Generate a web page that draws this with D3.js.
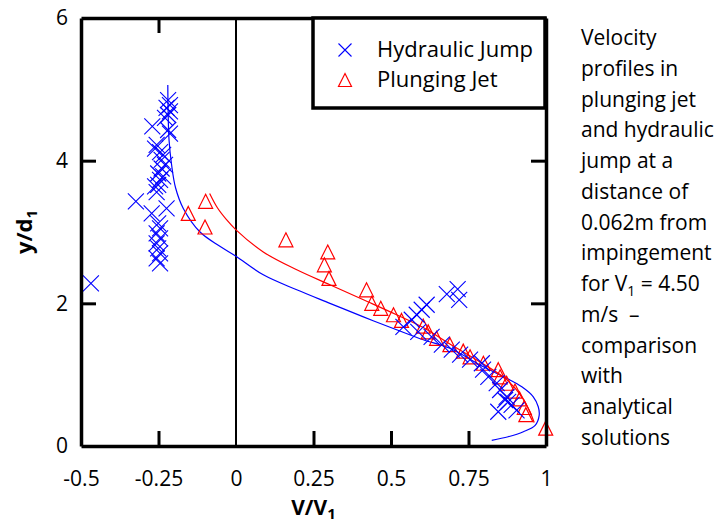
<!DOCTYPE html>
<html>
<head>
<meta charset="utf-8">
<script src="https://cdn.jsdelivr.net/npm/d3@7"></script>
<style>
  body { margin: 0; background: #fff; }
  svg { display: block; font-family: "Open Sans", sans-serif; }
</style>
</head>
<body>
<div id="chart"></div>
<script>
var hydraulicJump = [
  [-0.219, 4.85], [-0.213, 4.78], [-0.224, 4.74], [-0.213, 4.69], [-0.219, 4.64],
  [-0.229, 4.60], [-0.270, 4.48], [-0.219, 4.43], [-0.213, 4.38], [-0.256, 4.22],
  [-0.261, 4.17], [-0.245, 4.12], [-0.235, 4.08], [-0.240, 4.01], [-0.229, 3.94],
  [-0.240, 3.89], [-0.251, 3.82], [-0.235, 3.78], [-0.245, 3.73], [-0.261, 3.64],
  [-0.251, 3.66], [-0.256, 3.56], [-0.323, 3.43], [-0.272, 3.26], [-0.224, 3.33],
  [-0.251, 3.12], [-0.245, 3.05], [-0.256, 2.98], [-0.245, 2.91], [-0.256, 2.84],
  [-0.251, 2.77], [-0.245, 2.70], [-0.256, 2.63], [-0.245, 2.56], [-0.468, 2.28],
  [0.540, 1.67], [0.567, 1.77], [0.583, 1.84], [0.599, 1.91], [0.615, 1.98],
  [0.588, 1.60], [0.680, 2.13], [0.715, 2.20], [0.720, 2.05], [0.631, 1.53],
  [0.664, 1.42], [0.696, 1.35], [0.723, 1.28], [0.755, 1.21], [0.793, 1.16],
  [0.797, 1.07], [0.814, 0.97], [0.841, 0.88], [0.852, 0.785], [0.868, 0.645],
  [0.873, 0.69], [0.878, 0.62], [0.889, 0.575], [0.905, 0.50], [0.846, 0.48]
];
var plungingJet = [
  [-0.154, 3.26], [-0.098, 3.43], [-0.100, 3.07], [0.161, 2.89], [0.296, 2.72],
  [0.285, 2.54], [0.300, 2.35], [0.421, 2.19], [0.438, 2.00], [0.467, 1.93],
  [0.508, 1.84], [0.534, 1.76], [0.604, 1.68], [0.620, 1.60], [0.647, 1.51],
  [0.690, 1.42], [0.733, 1.33], [0.755, 1.25], [0.798, 1.16], [0.846, 1.07],
  [0.852, 0.97], [0.873, 0.88], [0.900, 0.77], [0.915, 0.66], [0.930, 0.54],
  [0.935, 0.44], [0.999, 0.25]
];
// analytical solutions, points
var hjCurve = [
  [-0.220, 5.06], [-0.219, 4.70], [-0.216, 4.29], [-0.208, 3.95], [-0.195, 3.62],
  [-0.170, 3.33], [-0.116, 3.00], [-0.052, 2.80], [0.000, 2.66], [0.088, 2.40],
  [0.196, 2.19], [0.303, 2.00], [0.411, 1.81], [0.518, 1.63], [0.604, 1.49],
  [0.690, 1.37], [0.798, 1.11], [0.873, 0.95], [0.922, 0.83], [0.959, 0.69],
  [0.975, 0.55], [0.978, 0.43], [0.965, 0.29], [0.927, 0.20], [0.878, 0.13],
  [0.825, 0.08]
];
var pjCurve = [
  [-0.085, 3.54], [-0.060, 3.34], [-0.030, 3.17], [0.000, 3.03], [0.088, 2.72],
  [0.196, 2.47], [0.303, 2.26], [0.411, 2.05], [0.518, 1.84], [0.604, 1.66],
  [0.690, 1.43], [0.798, 1.15], [0.873, 0.93], [0.922, 0.69], [0.948, 0.48],
  [0.962, 0.33]
];
var xTicks = [-0.5, -0.25, 0, 0.25, 0.5, 0.75, 1];
var xTickLabels = ["-0.5", "-0.25", "0", "0.25", "0.5", "0.75", "1"];
var yTicks = [0, 2, 4, 6];
var yTickLabels = ["0", "2", "4", "6"];
var captionLines = ["Velocity", "profiles in", "plunging jet", "and hydraulic", "jump at a",
  "distance of", "0.062m from", "impingement", "for V|1| = 4.50", "m/s \u00a0\u2013",
  "comparison", "with", "analytical", "solutions"];

var blue = "#0000ff", red = "#ff0000";
var svg = d3.select("#chart").append("svg").attr("width", 721).attr("height", 523);

var x = d3.scaleLinear().domain([-0.5, 1]).range([81, 546]);
var y = d3.scaleLinear().domain([0, 6]).range([446, 18]);

// zero line
svg.append("line")
  .attr("x1", x(0)).attr("x2", x(0)).attr("y1", y(6)).attr("y2", y(0))
  .attr("stroke", "#000").attr("stroke-width", 2);

var line = d3.line().x(d => x(d[0])).y(d => y(d[1])).curve(d3.curveCatmullRom);

svg.append("path").datum(hjCurve).attr("d", line)
  .attr("fill", "none").attr("stroke", blue).attr("stroke-width", 1.2);
svg.append("path").datum(pjCurve).attr("d", line)
  .attr("fill", "none").attr("stroke", red).attr("stroke-width", 1.2);

var cross = s => `M${-s},${-s}L${s},${s}M${-s},${s}L${s},${-s}`;
var tri = s => `M0,${-s}L${s},${s}L${-s},${s}Z`;

svg.append("g").selectAll("path")
  .data(plungingJet)
  .join("path")
  .attr("transform", d => `translate(${x(d[0])},${y(d[1])})`)
  .attr("d", tri(7))
  .attr("fill", "none").attr("stroke", red).attr("stroke-width", 1.2);

svg.append("g").selectAll("path")
  .data(hydraulicJump)
  .join("path")
  .attr("transform", d => `translate(${x(d[0])},${y(d[1])})`)
  .attr("d", cross(8))
  .attr("fill", "none").attr("stroke", blue).attr("stroke-width", 1.1);

// axes with inward ticks
var styleAxis = g => {
  g.select(".domain").attr("stroke-width", 3.5);
  g.selectAll(".tick line").attr("stroke-width", 3);
  g.selectAll(".tick text").attr("font-size", 21).attr("fill", "#000");
};
svg.append("g").attr("transform", `translate(0,${y(0)})`)
  .call(d3.axisBottom(x).tickValues(xTicks).tickSizeInner(-15).tickSizeOuter(0).tickPadding(25)
    .tickFormat((d, i) => xTickLabels[i]))
  .attr("font-family", null)
  .call(styleAxis)
  .call(g => g.selectAll(".tick").filter(d => d === 0 || d === 1).select("line").remove());
svg.append("g").attr("transform", `translate(0,${y(6)})`)
  .call(d3.axisTop(x).tickValues([-0.25, 0.25, 0.5, 0.75]).tickSizeInner(-15).tickSizeOuter(0).tickFormat(""))
  .call(styleAxis);
svg.append("g").attr("transform", `translate(${x(-0.5)},0)`)
  .call(d3.axisLeft(y).tickValues(yTicks).tickSizeInner(-15).tickSizeOuter(0).tickPadding(13)
    .tickFormat((d, i) => yTickLabels[i]))
  .attr("font-family", null)
  .call(styleAxis)
  .call(g => g.selectAll(".tick").filter(d => d === 0 || d === 6).select("line").remove());
svg.append("g").attr("transform", `translate(${x(1)},0)`)
  .call(d3.axisRight(y).tickValues([2, 4]).tickSizeInner(-15).tickSizeOuter(0).tickFormat(""))
  .call(styleAxis);

// axis titles
var xt = svg.append("text").attr("x", x(0.25)).attr("y", 515)
  .attr("text-anchor", "middle").attr("font-size", 21).attr("font-weight", "bold");
xt.append("tspan").text("V/V");
xt.append("tspan").attr("font-size", 15).attr("dy", 4).text("1");

var yt = svg.append("text").attr("transform", `translate(32,${y(3)}) rotate(-90)`)
  .attr("text-anchor", "middle").attr("font-size", 22).attr("font-weight", "bold");
yt.append("tspan").text("y/d");
yt.append("tspan").attr("font-size", 15).attr("dy", 5).text("1");

// legend
var lg = svg.append("g");
lg.append("rect").attr("x", 313).attr("y", 18).attr("width", 232).attr("height", 90)
  .attr("fill", "#fff").attr("stroke", "#000").attr("stroke-width", 3.5);
lg.append("path").attr("transform", "translate(345,50)").attr("d", cross(6.5))
  .attr("stroke", blue).attr("stroke-width", 1.1);
lg.append("path").attr("transform", "translate(345,80)").attr("d", tri(6.5))
  .attr("fill", "none").attr("stroke", red).attr("stroke-width", 1.2);
lg.append("text").attr("x", 377).attr("y", 57).attr("font-size", 22).text("Hydraulic Jump");
lg.append("text").attr("x", 377).attr("y", 87).attr("font-size", 22).text("Plunging Jet");

// caption at right
var cap = svg.append("text").attr("font-size", 21);
captionLines.forEach((s, i) => {
  var parts = s.split("|");
  cap.append("tspan").attr("x", 581).attr("y", 45 + i * 30.75).text(parts[0]);
  if (parts.length > 1) {
    cap.append("tspan").attr("font-size", 14).attr("dy", 5).text(parts[1]);
    cap.append("tspan").attr("dy", -5).text(parts[2]);
  }
});
</script>
</body>
</html>
